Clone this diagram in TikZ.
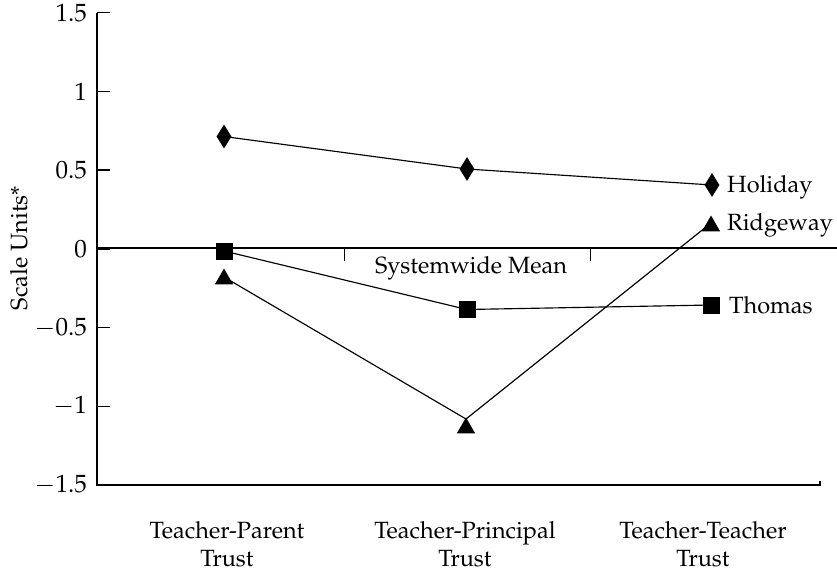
\documentclass[tikz,border=0pt]{standalone}
\usepackage[T1]{fontenc}
\usepackage{mathpazo}
\usetikzlibrary{shapes.geometric}
\begin{document}
\begin{tikzpicture}[x=1pt,y=-1pt,
  every node/.style={font=\fontsize{23.5}{27.5}\selectfont},
  axis/.style={line width=1.4pt},
  zeroline/.style={line width=2.6pt},
  dataline/.style={line width=1.15pt},
  dmark/.style={diamond,fill=black,inner sep=0pt,minimum width=15pt,minimum height=24pt},
  smark/.style={rectangle,fill=black,inner sep=0pt,minimum size=17pt},
  tmark/.style={regular polygon,regular polygon sides=3,fill=black,inner sep=0pt,minimum size=21pt},
  ticklab/.style={anchor=east,inner sep=0pt,font=\fontsize{25}{29}\selectfont},
  serlab/.style={anchor=west,inner sep=0pt},
  catlab/.style={align=center,inner sep=0pt}]
\useasboundingbox (0,0) rectangle (837,571);
% axes
\coordinate (ytop) at (97,12.7);
\coordinate (origin) at (97,485);
\coordinate (xend) at (820,485);
\coordinate (z0) at (97,248);
\coordinate (z1) at (837,248);
\draw[axis] (ytop) -- (origin) -- (xend) -- ++(0,-4);
\draw[zeroline] (z0) -- (z1);
\foreach \v/\lab in {1.5/1.5,1/1,0.5/0.5,0/0,-0.5/$-$0.5,-1/$-$1,-1.5/$-$1.5}{
  \pgfmathsetmacro{\yy}{248.85-157.43*\v}
  \draw[axis] (97,\yy) -- (110,\yy);
  \node[ticklab] (t\v) at (87,\yy) {\lab};
}
\coordinate (m1) at (344,248);
\coordinate (m2) at (590,248);
\draw[line width=1pt] (m1) -- ++(0,13);
\draw[line width=1pt] (m2) -- ++(0,13);
\node[inner sep=0pt] (sysmean) at (471,268) {Systemwide Mean};
\node[rotate=90,inner sep=0pt] (ylab) at (19,248) {Scale Units*};
% categories
\node[catlab] (c1) at (227,544) {Teacher-Parent\\Trust};
\node[catlab] (c2) at (465,544) {Teacher-Principal\\Trust};
\node[catlab] (c3) at (703,544) {Teacher-Teacher\\Trust};
% data points
\coordinate (hp1) at (224,136.5);
\coordinate (hp2) at (467,169);
\coordinate (hp3) at (712,185);
\coordinate (tp1) at (224,251);
\coordinate (tp2) at (467,309.5);
\coordinate (tp3) at (711,305);
\coordinate (rp1) at (224,277);
\coordinate (rp2) at (466,419);
\coordinate (rp3) at (711,223);
\draw[dataline] (hp1) -- (hp2) -- (hp3);
\draw[dataline] (tp1) -- (tp2) -- (tp3);
\draw[dataline] (rp1) -- (rp2) -- (rp3);
\node[dmark] (h1) at (hp1) {};
\node[dmark] (h2) at (hp2) {};
\node[dmark] (h3) at (hp3) {};
\node[smark] (s1) at (tp1) {};
\node[smark] (s2) at (tp2) {};
\node[smark] (s3) at (tp3) {};
\node[tmark] (r1) at (224,279) {};
\node[tmark] (r2) at (466,428) {};
\node[tmark] (r3) at (711,226) {};
% series labels
\node[serlab] (holiday) at (727,187) {Holiday};
\node[serlab] (ridgeway) at (727,225) {Ridgeway};
\node[serlab] (thomas) at (729,305) {Thomas};
\end{tikzpicture}
\end{document}
